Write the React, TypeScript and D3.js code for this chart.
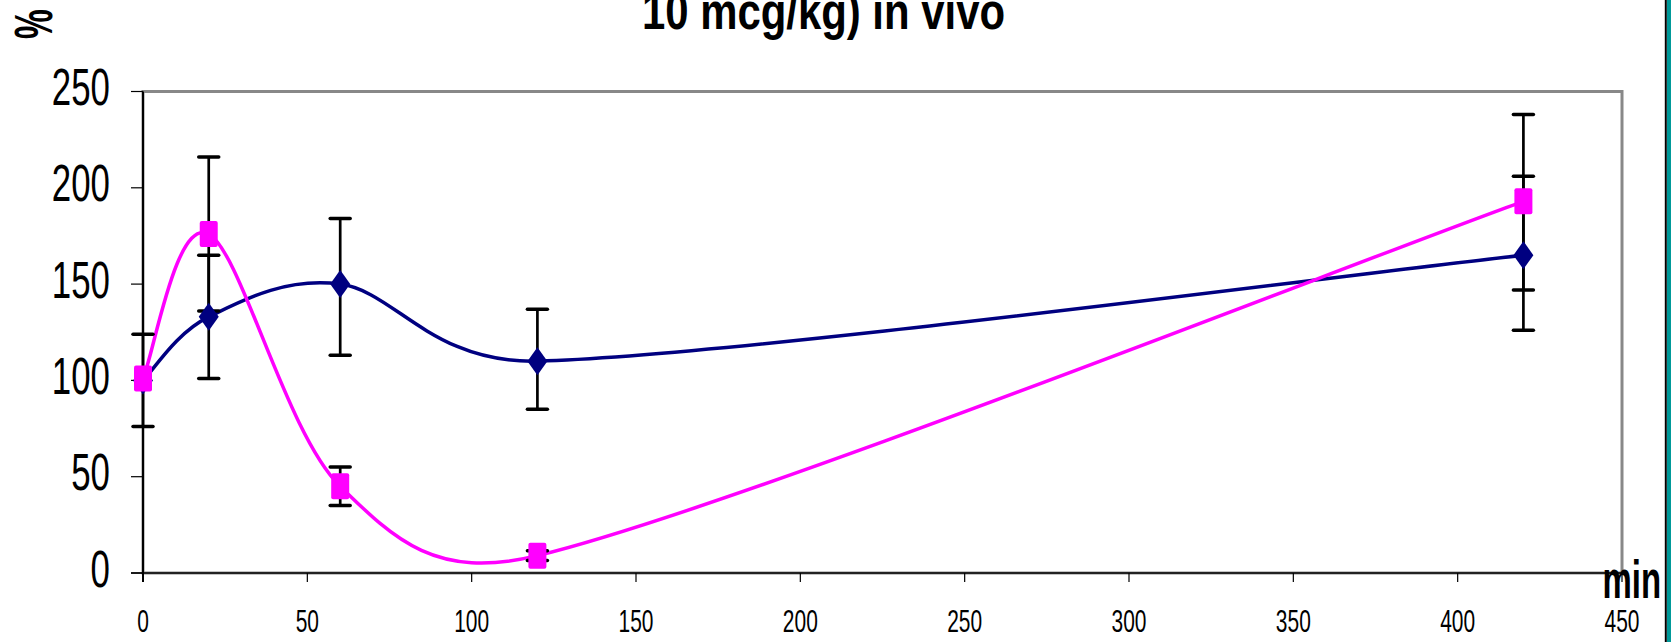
import * as d3 from "d3";
import { useEffect, useRef } from "react";

// time points (min)
const minutes = [0, 20, 60, 120, 420];

// blue series (diamonds)
const blueValues = [100, 133, 150, 110, 165];
const blueErrUp = [24, 32, 34, 27, 41];
const blueErrDown = [24, 32, 37, 25, 39];

// magenta series (squares)
const pinkValues = [101, 176, 45, 9, 193];
const pinkErrUp = [0, 40, 10, 2.5, 45];
const pinkErrDown = [0, 40, 10, 2.5, 46];

const xTicks = [0, 50, 100, 150, 200, 250, 300, 350, 400, 450];
const yTicks = [0, 50, 100, 150, 200, 250];

// spreadsheet-style smoothed line: bezier with 1/6 tension, control arms capped at half a segment
const smoothPath = (pts: [number, number][]) => {
  const p = d3.path();
  const n = pts.length;
  const dist = (a: [number, number], b: [number, number]) => Math.hypot(b[0] - a[0], b[1] - a[1]);
  p.moveTo(pts[0][0], pts[0][1]);
  for (let i = 0; i < n - 1; i++) {
    const p0 = pts[Math.max(i - 1, 0)];
    const p1 = pts[i];
    const p2 = pts[i + 1];
    const p3 = pts[Math.min(i + 2, n - 1)];
    const d12 = dist(p1, p2);
    const d02 = dist(p0, p2);
    const d13 = dist(p1, p3);
    const f1 = d02 / 6 < d12 / 2 ? 1 / 6 : d12 / d02 / 2;
    const f2 = d13 / 6 < d12 / 2 ? 1 / 6 : d12 / d13 / 2;
    p.bezierCurveTo(
      p1[0] + f1 * (p2[0] - p0[0]),
      p1[1] + f1 * (p2[1] - p0[1]),
      p2[0] - f2 * (p3[0] - p1[0]),
      p2[1] - f2 * (p3[1] - p1[1]),
      p2[0],
      p2[1]
    );
  }
  return p.toString();
};

const App = () => {
  const svgRef = useRef<SVGSVGElement>(null);

  useEffect(() => {
    const width = 1671;
    const height = 642;

    const x = d3.scaleLinear().domain([0, 450]).range([143, 1622]);
    const y = d3.scaleLinear().domain([0, 250]).range([573, 91.5]);

    const svg = d3.select(svgRef.current);
    svg.selectAll("*").remove();
    svg.attr("width", width).attr("height", height).attr("viewBox", `0 0 ${width} ${height}`);

    svg.append("rect").attr("width", width).attr("height", height).attr("fill", "#fff");

    // plot frame
    svg
      .append("rect")
      .attr("x", x(0))
      .attr("y", y(250))
      .attr("width", x(450) - x(0))
      .attr("height", y(0) - y(250))
      .attr("fill", "none")
      .attr("stroke", "#888")
      .attr("stroke-width", 3);

    // axes
    svg
      .append("line")
      .attr("x1", x(0))
      .attr("x2", x(0))
      .attr("y1", y(250))
      .attr("y2", y(0) + 9)
      .attr("stroke", "#000")
      .attr("stroke-width", 2);
    svg
      .append("line")
      .attr("x1", x(0) - 12)
      .attr("x2", x(450))
      .attr("y1", y(0))
      .attr("y2", y(0))
      .attr("stroke", "#000")
      .attr("stroke-width", 1.5);

    // y ticks + labels
    const yt = svg.append("g");
    yt.selectAll("line")
      .data(yTicks)
      .join("line")
      .attr("x1", x(0) - 12)
      .attr("x2", x(0))
      .attr("y1", (d) => y(d))
      .attr("y2", (d) => y(d))
      .attr("stroke", "#000")
      .attr("stroke-width", 1.2);
    yt.selectAll("text")
      .data(yTicks)
      .join("text")
      .attr("transform", (d) => `translate(110,${y(d) + 13.5}) scale(0.67,1)`)
      .attr("text-anchor", "end")
      .style("font-family", "'Liberation Sans', Arial, sans-serif")
      .style("font-size", "52px")
      .text((d) => d);

    // x ticks + labels
    const xt = svg.append("g");
    xt.selectAll("line")
      .data(xTicks.slice(1))
      .join("line")
      .attr("x1", (d) => x(d))
      .attr("x2", (d) => x(d))
      .attr("y1", y(0))
      .attr("y2", y(0) + 9)
      .attr("stroke", "#000")
      .attr("stroke-width", 1.2);
    xt.selectAll("text")
      .data(xTicks)
      .join("text")
      .attr("transform", (d) => `translate(${x(d)},632) scale(0.655,1)`)
      .attr("text-anchor", "middle")
      .style("font-family", "'Liberation Sans', Arial, sans-serif")
      .style("font-size", "32px")
      .text((d) => d);

    // series lines
    const toPts = (vals: number[]) =>
      vals.map((v, i) => [x(minutes[i]), y(v)] as [number, number]);

    svg
      .append("path")
      .attr("d", smoothPath(toPts(blueValues)))
      .attr("fill", "none")
      .attr("stroke", "#000080")
      .attr("stroke-width", 3.5);
    svg
      .append("path")
      .attr("d", smoothPath(toPts(pinkValues)))
      .attr("fill", "none")
      .attr("stroke", "#ff00ff")
      .attr("stroke-width", 3.5);

    // error bars
    const errs = [
      ...minutes.map((m, i) => ({ m, v: blueValues[i], up: blueErrUp[i], down: blueErrDown[i] })),
      ...minutes.map((m, i) => ({ m, v: pinkValues[i], up: pinkErrUp[i], down: pinkErrDown[i] })),
    ].filter((e) => e.up > 0 || e.down > 0);

    const eb = svg.append("g").attr("stroke", "#000");
    eb.selectAll("line.v")
      .data(errs)
      .join("line")
      .attr("class", "v")
      .attr("x1", (d) => x(d.m))
      .attr("x2", (d) => x(d.m))
      .attr("y1", (d) => y(d.v + d.up))
      .attr("y2", (d) => y(d.v - d.down))
      .attr("stroke-width", 2.7);
    const caps = errs.flatMap((d) => [
      { m: d.m, v: d.v + d.up },
      { m: d.m, v: d.v - d.down },
    ]);
    eb.selectAll("line.cap")
      .data(caps)
      .join("line")
      .attr("class", "cap")
      .attr("x1", (d) => x(d.m) - 10)
      .attr("x2", (d) => x(d.m) + 10)
      .attr("y1", (d) => y(d.v))
      .attr("y2", (d) => y(d.v))
      .attr("stroke-width", 3.5)
      .attr("stroke-linecap", "round");

    // markers
    svg
      .append("g")
      .selectAll("path")
      .data(blueValues)
      .join("path")
      .attr("transform", (d, i) => `translate(${x(minutes[i])},${y(d)})`)
      .attr("d", "M0,-14L10,0L0,14L-10,0Z")
      .attr("fill", "#000080");
    svg
      .append("g")
      .selectAll("rect")
      .data(pinkValues)
      .join("rect")
      .attr("x", (d, i) => x(minutes[i]) - 9)
      .attr("y", (d) => y(d) - 13)
      .attr("width", 18)
      .attr("height", 26)
      .attr("rx", 2)
      .attr("fill", "#ff00ff");

    // titles
    svg
      .append("text")
      .attr("x", 823.5)
      .attr("y", 29)
      .attr("text-anchor", "middle")
      .attr("textLength", 363)
      .attr("lengthAdjust", "spacingAndGlyphs")
      .style("font-family", "'Liberation Sans', Arial, sans-serif")
      .style("font-size", "52px")
      .style("font-weight", "bold")
      .text("10 mcg/kg) in vivo");

    svg
      .append("text")
      .attr("transform", "translate(52,24) rotate(-90) scale(0.62,1)")
      .attr("text-anchor", "middle")
      .style("font-family", "'Liberation Sans', Arial, sans-serif")
      .style("font-size", "54px")
      .style("font-weight", "bold")
      .text("%");

    svg
      .append("text")
      .attr("x", 1602.5)
      .attr("y", 598)
      .attr("textLength", 58.5)
      .attr("lengthAdjust", "spacingAndGlyphs")
      .style("font-family", "'Liberation Sans', Arial, sans-serif")
      .style("font-size", "54px")
      .style("font-weight", "bold")
      .text("min");

    // right edge bar
    svg
      .append("line")
      .attr("x1", 1665.8)
      .attr("x2", 1665.8)
      .attr("y1", 0)
      .attr("y2", height)
      .attr("stroke", "#000")
      .attr("stroke-width", 2);
    svg
      .append("rect")
      .attr("x", 1667)
      .attr("y", 0)
      .attr("width", 4)
      .attr("height", height)
      .attr("fill", "#009999");
  }, []);

  return <svg ref={svgRef} style={{ position: "absolute", left: 0, top: 0 }}></svg>;
};

export default App;
